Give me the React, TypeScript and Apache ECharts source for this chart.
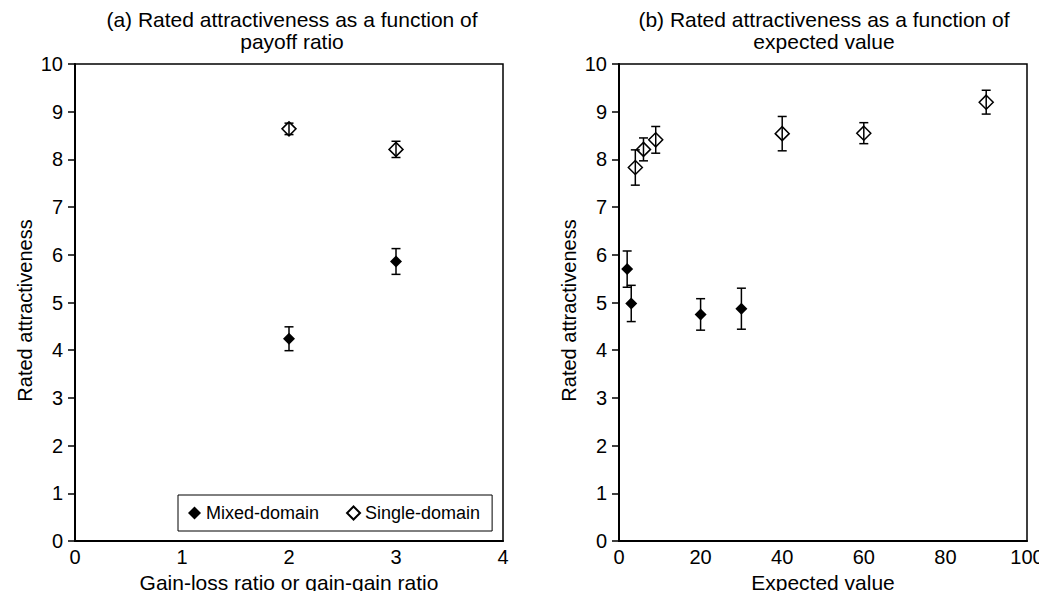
import React, { useEffect, useRef } from "react";
import * as echarts from "echarts";

// Panel (a): payoff ratio
const ratioMixedX = [2, 3];
const ratioMixedY = [4.24, 5.86];
const ratioMixedErr = [0.25, 0.27];
const ratioSingleX = [2, 3];
const ratioSingleY = [8.64, 8.21];
const ratioSingleErr = [0.12, 0.17];

// Panel (b): expected value
const evMixedX = [2, 3, 20, 30];
const evMixedY = [5.7, 4.98, 4.75, 4.87];
const evMixedErr = [0.38, 0.38, 0.33, 0.43];
const evSingleX = [4, 6, 9, 40, 60, 90];
const evSingleY = [7.83, 8.21, 8.41, 8.54, 8.55, 9.2];
const evSingleErr = [0.37, 0.24, 0.28, 0.36, 0.22, 0.25];

const titleA = "(a) Rated attractiveness as a function of\npayoff ratio";
const titleB = "(b) Rated attractiveness as a function of\nexpected value";
const xNameA = "Gain-loss ratio or gain-gain ratio";
const xNameB = "Expected value";
const yName = "Rated attractiveness";
const seriesNames = ["Mixed-domain", "Single-domain"];

const FONT = "Liberation Sans, Arial, sans-serif";

function pts(xs: number[], ys: number[]) {
  return xs.map((x, i) => [x, ys[i]]);
}
function errs(xs: number[], ys: number[], es: number[]) {
  return xs.map((x, i) => [x, ys[i], es[i]]);
}

function errorSeries(idx: number, data: number[][]) {
  return {
    type: "custom",
    xAxisIndex: idx,
    yAxisIndex: idx,
    silent: true,
    z: 3,
    data,
    renderItem: (params: any, api: any) => {
      const x = api.value(0);
      const y = api.value(1);
      const e = api.value(2);
      const lo = api.coord([x, y - e]);
      const hi = api.coord([x, y + e]);
      const w = 4.5;
      const style = { stroke: "#000", lineWidth: 1.5 };
      return {
        type: "group",
        children: [
          { type: "line", shape: { x1: lo[0], y1: lo[1], x2: hi[0], y2: hi[1] }, style },
          { type: "line", shape: { x1: lo[0] - w, y1: lo[1], x2: lo[0] + w, y2: lo[1] }, style },
          { type: "line", shape: { x1: hi[0] - w, y1: hi[1], x2: hi[0] + w, y2: hi[1] }, style },
        ],
      };
    },
  };
}

function mixedSeries(idx: number, data: number[][]) {
  return {
    name: seriesNames[0],
    type: "scatter",
    xAxisIndex: idx,
    yAxisIndex: idx,
    symbol: "diamond",
    symbolSize: 12,
    z: 4,
    itemStyle: { color: "#000", opacity: 1 },
    data,
  };
}

function singleSeries(idx: number, data: number[][]) {
  return {
    name: seriesNames[1],
    type: "scatter",
    xAxisIndex: idx,
    yAxisIndex: idx,
    symbol: "diamond",
    symbolSize: 14,
    z: 4,
    itemStyle: { color: "rgba(255,255,255,0)", borderColor: "#000", borderWidth: 1.5, opacity: 1 },
    data,
  };
}

const axisLabel = { color: "#000", fontSize: 20, fontFamily: FONT };

function xAxis(idx: number, max: number, interval: number, name: string) {
  return {
    type: "value",
    gridIndex: idx,
    min: 0,
    max,
    interval,
    name,
    nameLocation: "middle",
    nameGap: 28,
    nameTextStyle: { color: "#000", fontSize: 21, fontFamily: FONT },
    axisLine: { show: true, lineStyle: { color: "#000", width: 2 } },
    axisTick: { show: false },
    axisLabel: { ...axisLabel, margin: 6 },
    splitLine: { show: false },
  };
}

function yAxis(idx: number) {
  return {
    type: "value",
    gridIndex: idx,
    min: 0,
    max: 10,
    interval: 1,
    name: yName,
    nameLocation: "middle",
    nameGap: 40,
    nameTextStyle: { color: "#000", fontSize: 20, fontFamily: FONT, padding: [0, 16, 0, 0] },
    axisLine: { show: true, lineStyle: { color: "#000", width: 2 } },
    axisTick: { show: true, inside: false, length: 7, lineStyle: { color: "#000", width: 1.5 } },
    axisLabel: { ...axisLabel, margin: 12 },
    splitLine: { show: false },
  };
}

export default function App() {
  const ref = useRef<HTMLDivElement>(null);
  useEffect(() => {
    if (!ref.current) return;
    const chart = echarts.init(ref.current, undefined, { renderer: "svg" });
    const titleStyle = { color: "#000", fontSize: 21, fontWeight: "normal" as const, fontFamily: FONT, lineHeight: 22 };
    chart.setOption({
      animation: false,
      backgroundColor: "#fff",
      title: [
        { text: titleA, left: 287, top: 3, textAlign: "center", textStyle: titleStyle },
        { text: titleB, left: 819, top: 3, textAlign: "center", textStyle: titleStyle },
      ],
      legend: {
        data: seriesNames,
        left: 178,
        top: 495,
        width: 314,
        height: 34,
        itemWidth: 13,
        itemHeight: 13,
        itemGap: 27,
        padding: [9, 12, 9, 10],
        borderColor: "#000",
        borderWidth: 1,
        backgroundColor: "#fff",
        textStyle: { color: "#000", fontSize: 18, fontFamily: FONT },
      },
      grid: [
        { left: 75, right: 544, top: 64, bottom: 58, show: true, borderColor: "#000", borderWidth: 1.5, backgroundColor: "transparent" },
        { left: 619, right: 20, top: 64, bottom: 58, show: true, borderColor: "#000", borderWidth: 1.5, backgroundColor: "transparent" },
      ],
      xAxis: [xAxis(0, 4, 1, xNameA), xAxis(1, 100, 20, xNameB)],
      yAxis: [yAxis(0), yAxis(1)],
      series: [
        errorSeries(0, errs(ratioMixedX, ratioMixedY, ratioMixedErr)),
        errorSeries(0, errs(ratioSingleX, ratioSingleY, ratioSingleErr)),
        mixedSeries(0, pts(ratioMixedX, ratioMixedY)),
        singleSeries(0, pts(ratioSingleX, ratioSingleY)),
        errorSeries(1, errs(evMixedX, evMixedY, evMixedErr)),
        errorSeries(1, errs(evSingleX, evSingleY, evSingleErr)),
        mixedSeries(1, pts(evMixedX, evMixedY)),
        singleSeries(1, pts(evSingleX, evSingleY)),
      ],
    });
    return () => chart.dispose();
  }, []);
  return <div ref={ref} style={{ width: 1047, height: 599, margin: -8 }} />;
}
